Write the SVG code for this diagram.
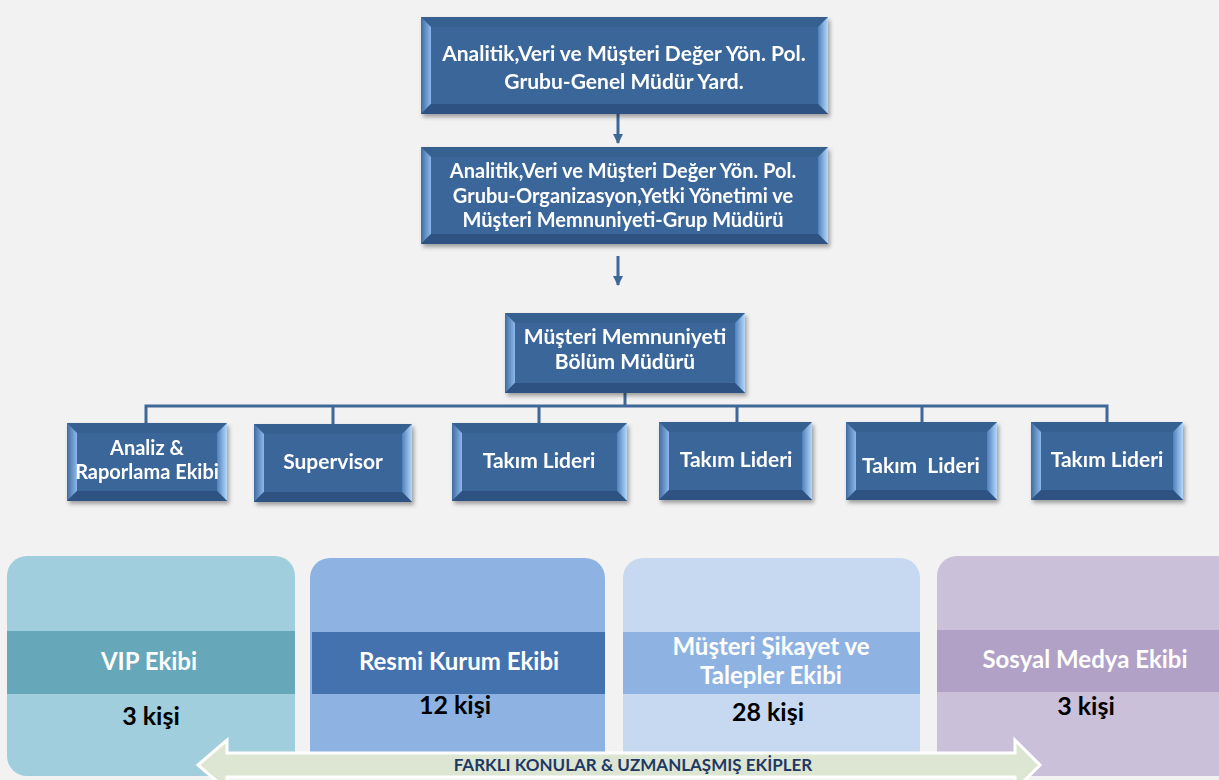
<svg xmlns="http://www.w3.org/2000/svg" width="1219" height="780" viewBox="0 0 1219 780">
<style>
.t{font-family:Lato,"Open Sans","Liberation Sans",sans-serif;font-weight:bold;fill:#FFFFFF;text-anchor:middle}
.k{font-family:Lato,"Open Sans","Liberation Sans",sans-serif;font-weight:bold;fill:#000000;text-anchor:middle;font-size:25px}
.base{fill:#3B6699}
.bt{fill:#36608F}
.bl{fill:url(#gl)}
.br{fill:url(#gr)}
.bb{fill:#2D5283}
.ln{stroke:#3F6898;stroke-width:3;fill:none}
</style>
<defs>
<linearGradient id="gl" x1="0" y1="0" x2="1" y2="0">
<stop offset="0" stop-color="#3F6CA3"/><stop offset="1" stop-color="#8DB8EA"/>
</linearGradient>
<linearGradient id="gr" x1="0" y1="0" x2="1" y2="0">
<stop offset="0" stop-color="#4F80BC"/><stop offset="1" stop-color="#B5D8FB"/>
</linearGradient>
<filter id="sh" x="-10%" y="-10%" width="125%" height="130%">
<feDropShadow dx="2" dy="3" stdDeviation="2" flood-color="#000" flood-opacity="0.35"/>
</filter>
<marker id="ah" viewBox="0 0 10 10" refX="9" refY="5" markerWidth="10" markerHeight="10" markerUnits="userSpaceOnUse" orient="auto">
<path d="M0,0 L10,5 L0,10 z" fill="#3F6898"/>
</marker>
</defs>
<rect width="1219" height="780" fill="#F2F2F2"/>

<g id="connectors">
<line class="ln" x1="618" y1="114" x2="618" y2="143" stroke-width="2" marker-end="url(#ah)"/>
<line class="ln" x1="618" y1="256" x2="618" y2="285" stroke-width="2" marker-end="url(#ah)"/>
<path class="ln" d="M625,393 V406 M146,423 V406 H1107 V422 M333,424 V406 M539,423 V406 M737,422 V406 M922,422 V406"/>
</g>

<g id="n1" filter="url(#sh)">
<rect class="base" x="421" y="17" width="407" height="97"/>
<polygon class="bt" points="421,17 828,17 818,27 431,27"/>
<polygon class="bl" points="421,17 431,27 431,104 421,114"/>
<polygon class="br" points="828,17 828,114 818,104 818,27"/>
<polygon class="bb" points="421,114 431,104 818,104 828,114"/>
<text class="t" font-size="21" x="624" y="61">Analitik,Veri ve Müşteri Değer Yön. Pol.</text>
<text class="t" font-size="21" x="624" y="89">Grubu-Genel Müdür Yard.</text>
</g>

<g id="n2" filter="url(#sh)">
<rect class="base" x="421" y="147" width="407" height="97"/>
<polygon class="bt" points="421,147 828,147 818,157 431,157"/>
<polygon class="bl" points="421,147 431,157 431,234 421,244"/>
<polygon class="br" points="828,147 828,244 818,234 818,157"/>
<polygon class="bb" points="421,244 431,234 818,234 828,244"/>
<text class="t" font-size="20" x="623" y="178">Analitik,Veri ve Müşteri Değer Yön. Pol.</text>
<text class="t" font-size="20" x="623" y="203">Grubu-Organizasyon,Yetki Yönetimi ve</text>
<text class="t" font-size="20" x="623" y="227">Müşteri Memnuniyeti-Grup Müdürü</text>
</g>

<g id="n3" filter="url(#sh)">
<rect class="base" x="505" y="313" width="240" height="80"/>
<polygon class="bt" points="505,313 745,313 735,323 515,323"/>
<polygon class="bl" points="505,313 515,323 515,383 505,393"/>
<polygon class="br" points="745,313 745,393 735,383 735,323"/>
<polygon class="bb" points="505,393 515,383 735,383 745,393"/>
<text class="t" font-size="21" x="625" y="344">Müşteri Memnuniyeti</text>
<text class="t" font-size="21" x="625" y="369">Bölüm Müdürü</text>
</g>

<g id="c1" filter="url(#sh)">
<rect class="base" x="67" y="423" width="160" height="78"/>
<polygon class="bt" points="67,423 227,423 217,433 77,433"/>
<polygon class="bl" points="67,423 77,433 77,491 67,501"/>
<polygon class="br" points="227,423 227,501 217,491 217,433"/>
<polygon class="bb" points="67,501 77,491 217,491 227,501"/>
<text class="t" font-size="20" x="147" y="455">Analiz &amp;</text>
<text class="t" font-size="20" x="147" y="479">Raporlama Ekibi</text>
</g>

<g id="c2" filter="url(#sh)">
<rect class="base" x="254" y="424" width="158" height="78"/>
<polygon class="bt" points="254,424 412,424 402,434 264,434"/>
<polygon class="bl" points="254,424 264,434 264,492 254,502"/>
<polygon class="br" points="412,424 412,502 402,492 402,434"/>
<polygon class="bb" points="254,502 264,492 402,492 412,502"/>
<text class="t" font-size="21" x="333" y="469">Supervisor</text>
</g>

<g id="c3" filter="url(#sh)">
<rect class="base" x="452" y="423" width="175" height="78"/>
<polygon class="bt" points="452,423 627,423 617,433 462,433"/>
<polygon class="bl" points="452,423 462,433 462,491 452,501"/>
<polygon class="br" points="627,423 627,501 617,491 617,433"/>
<polygon class="bb" points="452,501 462,491 617,491 627,501"/>
<text class="t" font-size="21" x="539" y="468">Takım Lideri</text>
</g>

<g id="c4" filter="url(#sh)">
<rect class="base" x="659" y="422" width="153" height="78"/>
<polygon class="bt" points="659,422 812,422 802,432 669,432"/>
<polygon class="bl" points="659,422 669,432 669,490 659,500"/>
<polygon class="br" points="812,422 812,500 802,490 802,432"/>
<polygon class="bb" points="659,500 669,490 802,490 812,500"/>
<text class="t" font-size="21" x="736" y="467">Takım Lideri</text>
</g>

<g id="c5" filter="url(#sh)">
<rect class="base" x="846" y="422" width="151" height="78"/>
<polygon class="bt" points="846,422 997,422 987,432 856,432"/>
<polygon class="bl" points="846,422 856,432 856,490 846,500"/>
<polygon class="br" points="997,422 997,500 987,490 987,432"/>
<polygon class="bb" points="846,500 856,490 987,490 997,500"/>
<text class="t" font-size="21" x="921" y="473" xml:space="preserve">Takım  Lideri</text>
</g>

<g id="c6" filter="url(#sh)">
<rect class="base" x="1031" y="422" width="152" height="78"/>
<polygon class="bt" points="1031,422 1183,422 1173,432 1041,432"/>
<polygon class="bl" points="1031,422 1041,432 1041,490 1031,500"/>
<polygon class="br" points="1183,422 1183,500 1173,490 1173,432"/>
<polygon class="bb" points="1031,500 1041,490 1173,490 1183,500"/>
<text class="t" font-size="21" x="1107" y="467">Takım Lideri</text>
</g>

<g id="team-vip">
<rect x="7" y="556" width="288" height="220" rx="20" fill="#A0CEDC"/>
<rect x="7" y="631" width="288" height="63" fill="#67A7BA"/>
<text class="t" font-size="24" x="149" y="670">VIP Ekibi</text>
<text class="k" x="151" y="725">3 kişi</text>
</g>

<g id="team-resmi">
<rect x="310" y="558" width="295" height="218" rx="20" fill="#8EB3E2"/>
<rect x="312" y="632" width="293" height="62" fill="#4372AE"/>
<text class="t" font-size="24" x="459" y="670">Resmi Kurum Ekibi</text>
<text class="k" x="455" y="714">12 kişi</text>
</g>

<g id="team-sikayet">
<rect x="623" y="558" width="297" height="218" rx="20" fill="#C6D9F0"/>
<rect x="623" y="632" width="297" height="62" fill="#8EB3E2"/>
<text class="t" font-size="24" x="771" y="655">Müşteri Şikayet ve</text>
<text class="t" font-size="24" x="771" y="684">Talepler Ekibi</text>
<text class="k" x="768" y="721">28 kişi</text>
</g>

<g id="team-sosyal">
<rect x="937" y="556" width="300" height="220" rx="20" fill="#CBC0D9"/>
<rect x="937" y="630" width="282" height="62" fill="#B2A1C7"/>
<text class="t" font-size="24" x="1085" y="668">Sosyal Medya Ekibi</text>
<text class="k" x="1086" y="715">3 kişi</text>
</g>

<g id="banner">
<polygon points="198,765 227,740 227,753 1015,753 1015,740 1040,765 1015,790 1015,777 227,777 227,790" fill="#DDE6D2" stroke="#FFFFFF" stroke-width="3" stroke-linejoin="miter"/>
<text x="633" y="771" font-family="Lato,'Open Sans','Liberation Sans',sans-serif" font-weight="bold" font-size="17" fill="#1F3864" text-anchor="middle">FARKLI KONULAR &amp; UZMANLAŞMIŞ EKİPLER</text>
</g>
</svg>
